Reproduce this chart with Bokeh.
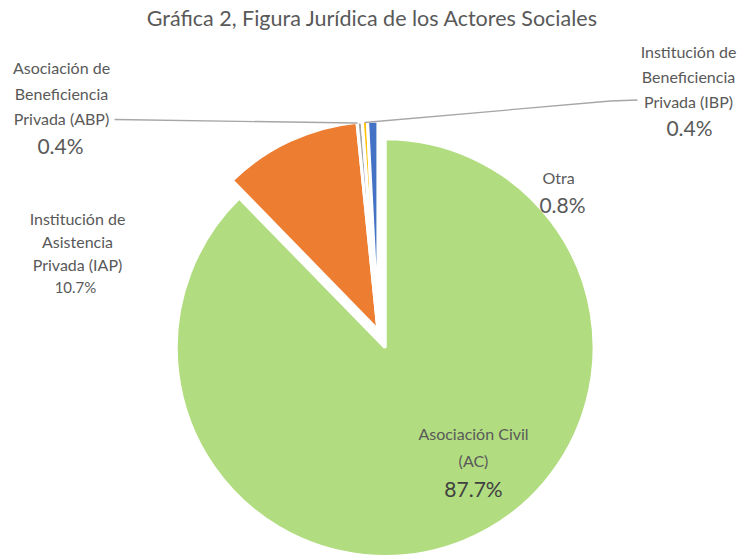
import numpy as np
from bokeh.plotting import figure
from bokeh.models import Range1d, ColumnDataSource
from bokeh.core.properties import value
from bokeh.embed import file_html
from bokeh.resources import INLINE

# ---------------- data ----------------
title_text = "Gráfica 2, Figura Jurídica de los Actores Sociales"
categories = ["Asociación Civil (AC)",
              "Institución de Asistencia Privada (IAP)",
              "Asociación de Beneficiencia Privada (ABP)",
              "Institución de Beneficiencia Privada (IBP)",
              "Otra"]
percent = [87.7, 10.7, 0.4, 0.4, 0.8]
pct_labels = ["87.7%", "10.7%", "0.4%", "0.4%", "0.8%"]
name_lines = [["Asociación Civil", "(AC)"],
              ["Institución de", "Asistencia", "Privada (IAP)"],
              ["Asociación de", "Beneficiencia", "Privada (ABP)"],
              ["Institución de", "Beneficiencia", "Privada (IBP)"],
              ["Otra"]]

# ---------------- styles / layout ----------------
colors = ["#B1DC80", "#ED7D31", "#A5A5A5", "#FFC000", "#4472C4"]
explode = [19, 0, 0, 0, 0]           # px, along slice mid-angle
W, H = 744, 557                       # reference pixel space
cx, cy_img, R = 377.5, 329.5, 209
text_color = "#595959"
font = value("Lato")

# label layout (image coords): x, first line y, line gap, pct x, pct y, pct size
lab_x = [473, 77, 61, 688, 558]
lab_y0 = [433, 218, 67, 51, 177]
lab_gap = [27, 23, 25.5, 25, 0]
pct_x = [473, 75, 60, 689, 562]
pct_y = [488, 286, 145, 127, 204]
pct_size = [21, 15, 21, 21, 21]
name_size = 16

def Y(y_img):
    return H - y_img

p = figure(width=W, height=H, output_backend="svg", toolbar_location=None,
           x_range=Range1d(0, W), y_range=Range1d(0, H),
           min_border=0)
p.axis.visible = False
p.grid.visible = False
p.outline_line_color = None
p.background_fill_color = "white"

vals = np.array(percent, dtype=float)
frac = vals / vals.sum()
cum_after = np.cumsum(frac)
cum_before = cum_after - frac
start = np.pi / 2 - cum_after * 2 * np.pi
end = np.pi / 2 - cum_before * 2 * np.pi
mid = (start + end) / 2
xs = cx + np.array(explode) * np.cos(mid)
ys = Y(cy_img) + np.array(explode) * np.sin(mid)

src = ColumnDataSource(dict(x=xs, y=ys, start=start, end=end, color=colors,
                            cat=categories))
p.wedge(x="x", y="y", radius=R, start_angle="start", end_angle="end",
        fill_color="color", line_color="white", line_width=3.2, source=src)

# leader lines
p.line([114, 357], [Y(119), Y(122.5)], line_color="#A6A6A6", line_width=1.3)
p.line([364, 610, 637], [Y(122), Y(100.5), Y(99.5)], line_color="#A6A6A6", line_width=1.3)

# title
p.text(x=[W / 2], y=[Y(17)], text=[title_text], text_align="center",
       text_baseline="middle", text_font=font, text_font_size="21.5px",
       text_color=text_color)

# labels
tx, ty, tt = [], [], []
for i, lines in enumerate(name_lines):
    for j, ln in enumerate(lines):
        tx.append(lab_x[i]); ty.append(Y(lab_y0[i] + j * lab_gap[i])); tt.append(ln)
p.text(x=tx, y=ty, text=tt, text_align="center", text_baseline="middle",
       text_font=font, text_font_size=f"{name_size}px", text_color=text_color)

for i in range(len(pct_labels)):
    p.text(x=[pct_x[i]], y=[Y(pct_y[i])], text=[pct_labels[i]], text_align="center",
           text_baseline="middle", text_font=font,
           text_font_size=f"{pct_size[i]}px",
           text_color="#404040" if i == 0 else text_color)

open("out.html", "w").write(file_html(p, INLINE))
